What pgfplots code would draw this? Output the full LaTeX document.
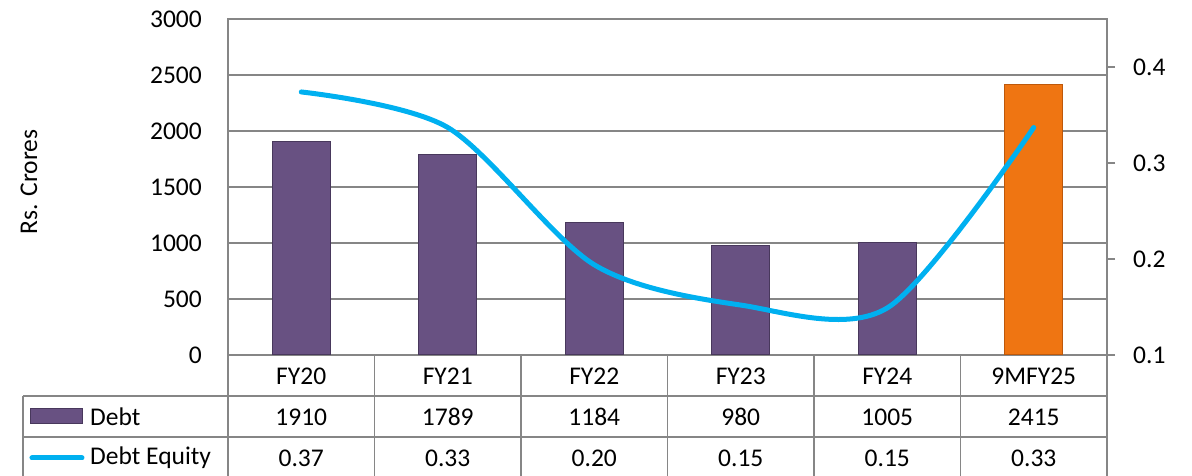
\documentclass[border=0pt]{standalone}
\usepackage{fontspec}
\setmainfont{Carlito}
\usepackage{pgfplots}
\pgfplotsset{compat=1.18}

\definecolor{debtpurple}{RGB}{104,81,130}
\definecolor{debtedge}{RGB}{72,56,92}
\definecolor{lastorange}{RGB}{239,117,18}
\definecolor{lastedge}{RGB}{190,88,10}
\definecolor{delinecol}{RGB}{0,176,240}
\definecolor{gridgray}{RGB}{134,134,134}

\begin{document}
\fontsize{25.6pt}{30pt}\selectfont
\begin{tikzpicture}[x=1bp,y=1bp]
\useasboundingbox (-228,-121) rectangle (964,355);

% debt bars, left axis
\begin{axis}[
    at={(0,0)}, anchor=south west,
    scale only axis,
    width=879bp, height=336bp,
    xmin=-0.5, xmax=5.5,
    ymin=0, ymax=3000,
    xtick=\empty,
    ytick={0,500,...,3000},
    ymajorgrids,
    grid style={gridgray, line width=1.6bp},
    axis line style={gridgray, line width=1.6bp},
    major tick length=0pt,
    /pgf/number format/assume math mode=true,
    /pgf/number format/1000 sep={},
    yticklabel style={anchor=east, inner sep=0pt, xshift=-26bp},
    ybar, bar width=58bp, bar shift=0pt,
    clip=false,
]
\addplot[fill=debtpurple, draw=debtedge, line width=1bp]
    coordinates {(0,1910) (1,1789) (2,1184) (3,980) (4,1005)};
\addplot[fill=lastorange, draw=lastedge, line width=1bp]
    coordinates {(5,2415)};
\end{axis}

% debt equity line, right axis
\begin{axis}[
    at={(0,0)}, anchor=south west,
    scale only axis,
    width=879bp, height=336bp,
    xmin=-0.5, xmax=5.5,
    ymin=0.1, ymax=0.45,
    axis y line*=right,
    axis x line=none,
    ytick={0.1,0.2,0.3,0.4},
    tick align=outside,
    major tick length=8bp,
    tick style={gridgray, line width=1.6bp},
    axis line style={gridgray, line width=1.6bp},
    /pgf/number format/assume math mode=true,
    /pgf/number format/.cd, fixed, fixed zerofill, precision=1, /pgfplots/.cd,
    yticklabel style={anchor=west, inner sep=0pt, xshift=18bp},
    clip=false,
]
\addplot[smooth, delinecol, line width=5bp, line cap=round]
    coordinates {(0,0.374) (1,0.337) (2,0.194) (3,0.152) (4,0.149) (5,0.337)};
\end{axis}

% data table under the plot
\begin{scope}[gridgray, line width=1.6bp]
\draw (0,-41) -- (879,-41);
\draw (-205,-41) -- (879,-41);
\draw (-205,-82) -- (879,-82);
\draw (-205,-41) -- (-205,-125);
\foreach \k in {0,...,6} \draw (146.5*\k,0) -- (146.5*\k,-125);
\end{scope}

\foreach \name/\debt/\de [count=\i from 0] in
    {FY20/1910/0.37, FY21/1789/0.33, FY22/1184/0.20,
     FY23/980/0.15, FY24/1005/0.15, 9MFY25/2415/0.33} {
  \node at (73.25+146.5*\i,-21) {\name};
  \node at (73.25+146.5*\i,-62) {\debt};
  \node at (73.25+146.5*\i,-103) {\de};
}

% legend keys in the table
\fill[debtpurple, draw=debtedge, line width=1bp] (-197,-69) rectangle (-145,-54);
\draw[delinecol, line width=5bp, line cap=round] (-196,-103) -- (-146,-103);
\node[anchor=west, inner sep=0pt] at (-138,-62) {Debt};
\node[anchor=west, inner sep=0pt] at (-138,-103) {Debt Equity};

\node[rotate=90] at (-199,173) {Rs. Crores};
\end{tikzpicture}
\end{document}
